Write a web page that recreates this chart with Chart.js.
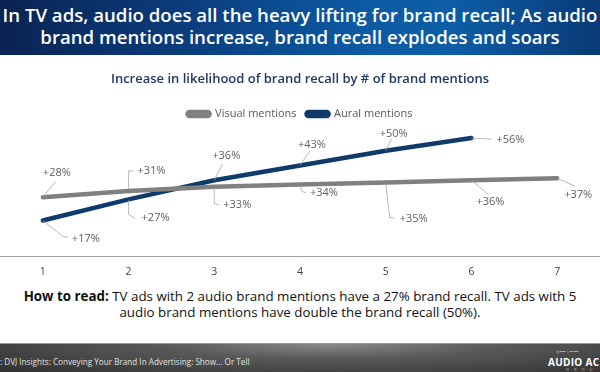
<!DOCTYPE html>
<html><head><meta charset="utf-8">
<script src="https://cdn.jsdelivr.net/npm/chart.js@4"></script>
<style>
html,body{margin:0;padding:0;width:600px;height:372px;overflow:hidden;background:#fff;font-family:"Open Sans",sans-serif;}
#banner{position:absolute;left:0;top:0;width:600px;height:55px;
 background:linear-gradient(90deg,#0a2352 0%,#0b3c7c 30%,#0c5aa2 60%,#0d5ea6 75%,#0a3a78 100%);}
.tl{position:absolute;left:0;width:600px;text-align:center;color:#fff;font-weight:600;white-space:nowrap;line-height:1;}
#t1{top:6px;} #t2{top:28px;}
#chartWrap{position:absolute;left:0;top:55px;width:600px;height:232px;}
.hr{position:absolute;left:0;width:600px;text-align:center;color:#111;white-space:nowrap;line-height:1;}
#h1{top:290px;} #h2{top:306px;}
#footer{position:absolute;left:0;top:343px;width:600px;height:29px;
 background:radial-gradient(ellipse at 55% 0%,#8a8a8a 0%,#5a5a5a 35%,#2e2e2e 100%);border-top:1px solid #9a9a9a;}
#ft{position:absolute;left:0;top:12px;font-size:7.2px;color:#e0e0e0;white-space:nowrap;}
#logo1{position:absolute;left:556px;top:5px;font-size:4px;color:#ddd;white-space:nowrap;}
#logo2{position:absolute;left:548px;top:11px;font-size:10px;font-weight:700;color:#fff;white-space:nowrap;letter-spacing:0.3px;}
#logo3{position:absolute;left:566px;top:23px;font-size:4px;color:#bbb;letter-spacing:5px;white-space:nowrap;}
</style></head>
<body>
<div id="banner">
 <div class="tl" id="t1">In TV ads, audio does all the heavy lifting for brand recall; As audio</div>
 <div class="tl" id="t2">brand mentions increase, brand recall explodes and soars</div>
</div>
<div id="chartWrap"><canvas id="c" width="600" height="232"></canvas></div>
<div class="hr" id="h1"><b>How to read:</b> TV ads with 2 audio brand mentions have a 27% brand recall. TV ads with 5</div>
<div class="hr" id="h2">audio brand mentions have double the brand recall (50%).</div>
<div id="footer">
 <div id="ft">: DVJ Insights: Conveying Your Brand In Advertising: Show... Or Tell</div>
 <div id="logo1">◎ ▪▪▪▪ | ▪▪ ▪▪▪</div>
 <div id="logo2">AUDIO AC</div>
 <div id="logo3">GROU</div>
</div>
<script>
// ---- data ----
const categories = ["1","2","3","4","5","6","7"];
const visualMentions = [28,31,33,34,35,36,37];
const auralMentions = [17,27,36,43,50,56];
const seriesNames = ["Visual mentions","Aural mentions"];

// ---- fit text widths (first element sets size, second reuses it) ----
function fit(id, target, base, alsoId){
  const el=document.getElementById(id); el.style.fontSize=base+'px';
  const span=document.createElement('span'); span.innerHTML=el.innerHTML; span.style.whiteSpace='nowrap';
  el.innerHTML=''; el.appendChild(span);
  const w=span.getBoundingClientRect().width; const s=base*target/w; el.style.fontSize=s+'px';
  if(alsoId) document.getElementById(alsoId).style.fontSize=s+'px';
}
fit('t1',595,18,'t2');
fit('h1',553,12,'h2');
fit('ft',250,7);

// ---- label layout (offsets from each point: text anchor + leader path) ----
const visualLabelLayout = [
 {t:[0,-24], p:[[0,0],[13,-16]]},
 {t:[9,-20], p:[[0,-2],[0,-20],[5,-20]]},
 {t:[9,18],  p:[[0,1],[0,17],[5,18]]},
 {t:[10,8],  p:[[0,1],[2,7],[6,8]]},
 {t:[14,36], p:[[0,1],[4,35],[9,36]]},
 {t:[5,22],  p:[[0,0],[17,14]]},
 {t:[7,17],  p:[[0,0],[18,8]]}
];
const auralLabelLayout = [
 {t:[29,18], p:[[0,0],[20,16],[25,17]]},
 {t:[13,19], p:[[0,1],[0,15],[6,19]]},
 {t:[-2,-24],p:[[0,0],[8,-16]]},
 {t:[-2,-21],p:[[0,0],[10,-15]]},
 {t:[-6,-17],p:[[0,0],[6,-12]]},
 {t:[25,2],  p:[[0,0],[20,1]]}
];
const layouts=[visualLabelLayout,auralLabelLayout];

const callouts={
 id:'callouts',
 afterDatasetsDraw(chart){
  const ctx=chart.ctx;
  chart.data.datasets.forEach((ds,di)=>{
   const meta=chart.getDatasetMeta(di);
   meta.data.forEach((pt,i)=>{
    const L=layouts[di][i];
    ctx.save();
    ctx.strokeStyle='#a6a6a6'; ctx.lineWidth=0.8;
    ctx.beginPath();
    L.p.forEach(([dx,dy],k)=>{ if(k) ctx.lineTo(pt.x+dx,pt.y+dy); else ctx.moveTo(pt.x+dx,pt.y+dy); });
    ctx.stroke();
    ctx.fillStyle='#606060'; ctx.font='11px "Open Sans", sans-serif';
    ctx.textAlign='left'; ctx.textBaseline='middle';
    ctx.fillText('+'+ds.data[i]+'%', pt.x+L.t[0], pt.y+L.t[1]);
    ctx.restore();
   });
  });
 }
};

new Chart(document.getElementById('c'),{
 type:'line',
 data:{labels:categories,datasets:[
  {label:seriesNames[0],data:visualMentions,borderColor:'#808080',backgroundColor:'#808080',borderWidth:4.5,pointRadius:0,borderCapStyle:'round',tension:0},
  {label:seriesNames[1],data:auralMentions,borderColor:'#0e3a6c',backgroundColor:'#0e3a6c',borderWidth:4.5,pointRadius:0,borderCapStyle:'round',tension:0}
 ]},
 options:{
  responsive:false,animation:false,
  layout:{padding:{left:0,right:0,top:0,bottom:0}},
  plugins:{
   title:{display:true,text:'Increase in likelihood of brand recall by # of brand mentions',color:'#1f3864',
     font:{size:13,weight:'600',family:'"Open Sans", sans-serif'},padding:{top:16,bottom:12}},
   legend:{display:true,labels:{boxWidth:22,boxHeight:4,useBorderRadius:true,borderRadius:2,color:'#595959',
     font:{size:11,family:'"Open Sans", sans-serif'},padding:10}},
   tooltip:{enabled:false}
  },
  scales:{
   x:{offset:true,grid:{display:false,drawTicks:false},border:{display:true,color:'#a0a0a0',width:1},
      ticks:{color:'#404040',font:{size:10.5,family:'"Open Sans", sans-serif'},padding:9}},
   y:{display:false,min:0,max:60}
  }
 },
 plugins:[callouts]
});
</script>
</body></html>
